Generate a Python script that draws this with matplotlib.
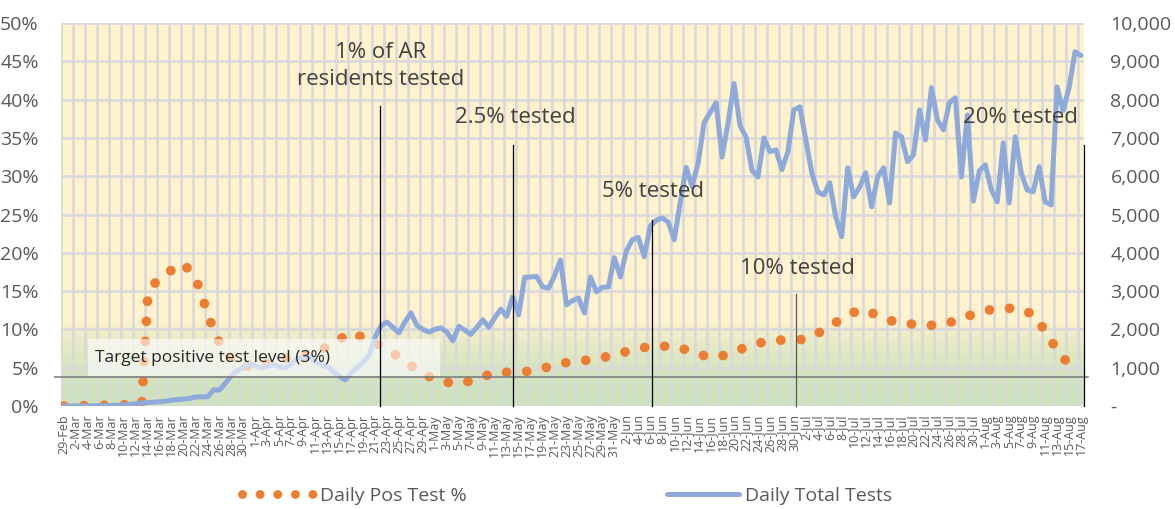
import matplotlib
matplotlib.use("Agg")
import matplotlib.pyplot as plt
import matplotlib.transforms as mtransforms
from matplotlib.lines import Line2D
from matplotlib.patches import Rectangle
import numpy as np
import pandas as pd

plt.rcParams['font.family'] = ['Open Sans', 'DejaVu Sans']

# categories: one per day, 29-Feb .. 17-Aug 2020
dates = pd.date_range('2020-02-29', '2020-08-17')
day_labels = ["%d-%s" % (d.day, d.strftime('%b')) for d in dates]

# daily total tests (right axis), one value per day
total_tests = [
    0, 0, 0, 0, 5, 5, 10, 10, 15, 20, 30,
    40, 60, 80, 90, 100, 110, 130, 150, 170, 180,
    200, 235, 240, 240, 420, 420, 600, 800, 930, 1000,
    1100, 1050, 1000, 1040, 1080, 1030, 990, 1100, 1250, 1260,
    1300, 1150, 1080, 1020, 900, 780, 680, 860, 1000, 1150,
    1330, 1800, 2100, 2190, 2050, 1910, 2200, 2430, 2100, 2000,
    1930, 2000, 2040, 1930, 1700, 2080, 1980, 1870, 2050, 2250,
    2060, 2300, 2530, 2340, 2850, 2380, 3360, 3370, 3380, 3110,
    3080, 3400, 3810, 2640, 2750, 2820, 2430, 3370, 2980, 3100,
    3110, 3870, 3370, 4050, 4340, 4400, 3900, 4700, 4850, 4910,
    4800, 4340, 5300, 6230, 5730, 6350, 7400, 7660, 7920, 6500,
    7390, 8420, 7320, 7030, 6150, 5980, 7000, 6640, 6690, 6170,
    6640, 7730, 7810, 6950, 6090, 5590, 5510, 5830, 4940, 4420,
    6220, 5460, 5720, 6090, 5200, 5980, 6220, 5300, 7130, 7030,
    6380, 6560, 7730, 6950, 8310, 7470, 7210, 7920, 8050, 5980,
    7600, 5350, 6140, 6300, 5650, 5330, 6870, 5300, 7030, 6090,
    5640, 5590, 6250, 5330, 5250, 8330, 7710, 8310, 9250, 9150,
]

# daily positive test % (left axis), read at these day indexes
pos_day = [0, 13, 14, 15, 17, 20, 22, 23, 24, 25, 26, 27, 29, 32, 36, 39, 42, 45,
           48, 51, 54, 57, 60, 63, 66, 69, 72, 75, 79, 82, 85, 89, 92, 95, 98,
           102, 105, 108, 111, 114, 118, 121, 124, 127, 130, 133, 136, 139, 143,
           146, 149, 152, 155, 159, 162, 164, 166, 168]
pos_pct = [0, 0.2, 14.2, 15.9, 17.3, 18.6, 16.6, 14.6, 12.0, 10.0, 8.2, 6.9, 5.5,
           5.0, 6.1, 6.5, 6.9, 8.2, 9.6, 8.6, 7.5, 5.8, 4.2, 3.2, 2.9, 3.5, 4.4,
           4.4, 4.6, 5.4, 5.8, 6.1, 6.7, 7.3, 7.8, 7.8, 7.1, 6.3, 6.7, 7.7, 8.6,
           8.6, 8.7, 9.9, 11.4, 12.6, 11.9, 10.9, 10.6, 10.5, 11.1, 12.0, 12.6,
           12.8, 12.0, 9.8, 7.3, 5.4]

target_pct = 3.8

# testing milestones
mile_labels = ['1% of AR\nresidents tested', '2.5% tested', '5% tested', '10% tested', '20% tested']
mile_day = [52.9, 75.0, 98.3, 122.3, 170.5]

ORANGE = '#ED7D31'
BLUE = '#8EAADB'
GREY = '#595959'

W, H = 1175, 509
fig = plt.figure(figsize=(W / 100, H / 100), dpi=100)
ax = fig.add_axes([61 / W, 1 - 406 / H, (1084 - 61) / W, (406 - 23) / H])
n = len(total_tests)
ax.set_xlim(-0.5, n - 0.5)
ax.set_ylim(0, 50)
ax.set_facecolor('#FFF2CC')

# green band at the bottom, fading into the yellow
t = np.linspace(0, 1, 200) ** 2
green = np.array([0.80, 0.89, 0.74])
yellow = np.array([1.0, 0.949, 0.80])
grad = (green[None, :] * (1 - t[:, None]) + yellow[None, :] * t[:, None])[:, None, :]
ax.imshow(grad, origin='lower', extent=(-0.5, n - 0.5, 0, 11.2), aspect='auto', zorder=0.5)

ax.vlines(np.arange(-0.5, n, 2), 0, 50, color='#D9D9D9', lw=1.9, zorder=1)
ax.hlines(np.arange(0, 51, 5), -0.5, n - 0.5, color='#D9D9D9', lw=1.9, zorder=1)

# round-dot line: tiny dashes with round caps
ax.plot(pos_day, pos_pct, color=ORANGE, lw=7, linestyle=(0, (0.01, 2.06)),
        dash_capstyle='round', zorder=3)

for s in ax.spines.values():
    s.set_visible(False)
ax.set_xticks(range(0, n, 2))
ax.set_xticklabels(day_labels[::2], rotation=90, fontsize=9, color=GREY)
ax.set_yticks(range(0, 51, 5))
ax.set_yticklabels(["%d%%" % v for v in range(0, 51, 5)], fontsize=14, color=GREY)
ax.tick_params(axis='x', length=0, pad=6)
ax.tick_params(axis='y', length=0, pad=16)

ax2 = ax.twinx()
ax2.set_ylim(0, 10000)
ax2.plot(range(n), total_tests, color=BLUE, lw=3.6, solid_joinstyle='round',
         solid_capstyle='round', zorder=3)
for s in ax2.spines.values():
    s.set_visible(False)
ax2.set_yticks(range(0, 10001, 1000))
ax2.set_yticklabels(['-' if v == 0 else "{:,}".format(v) for v in range(0, 10001, 1000)],
                    fontsize=14, color=GREY)
ax2.tick_params(axis='y', length=0, pad=19)

# target box + line
ax2.add_patch(Rectangle((4.0, 3.92), 58.9, 4.83, transform=ax.transData,
                        facecolor='white', alpha=0.6, edgecolor='none', zorder=5))
ax2.text(5.2, 6.3, 'Target positive test level (3%)', transform=ax.transData,
         fontsize=12.5, color='#262626', va='center', ha='left', zorder=6)
blend = mtransforms.blended_transform_factory(ax.transAxes, ax.transData)
ax2.plot([-0.006, 1.004], [target_pct, target_pct], transform=blend, color='#7F7F7F',
         lw=1.2, clip_on=False, zorder=6)

# milestone lines and labels
mile_top = [39.1, 34.1, 24.3, 14.6, 34.1]
mile_col = ['black', 'black', 'black', GREY, 'black']
for d, top, c in zip(mile_day, mile_top, mile_col):
    ax2.plot([d, d], [0, top], transform=ax.transData, color=c, lw=0.9,
             clip_on=False, zorder=6)
ax2.text(52.9, 44.4, mile_labels[0], transform=ax.transData, fontsize=16, color='#404040',
         ha='center', va='center', linespacing=1.4, zorder=6)
for lab, (x, y) in zip(mile_labels[1:], [(65.4, 37.6), (90.0, 28.0), (113.0, 18.0), (150.2, 37.6)]):
    ax2.text(x, y, lab, transform=ax.transData, fontsize=16, color='#404040',
             ha='left', va='center', zorder=6)

h1 = Line2D([], [], color=ORANGE, lw=6.4, linestyle=(0, (0.01, 1.97)), dash_capstyle='round')
h2 = Line2D([], [], color=BLUE, lw=3.6, solid_capstyle='round')
fig.legend([h1, h2], ['Daily Pos Test %', 'Daily Total Tests'], loc='center',
           bbox_to_anchor=(567 / W, 1 - 496 / H), ncol=2, frameon=False, fontsize=14,
           labelcolor=GREY, handlelength=3.7, handletextpad=0.3, columnspacing=10.3)

fig.savefig('out.png', dpi=100)
